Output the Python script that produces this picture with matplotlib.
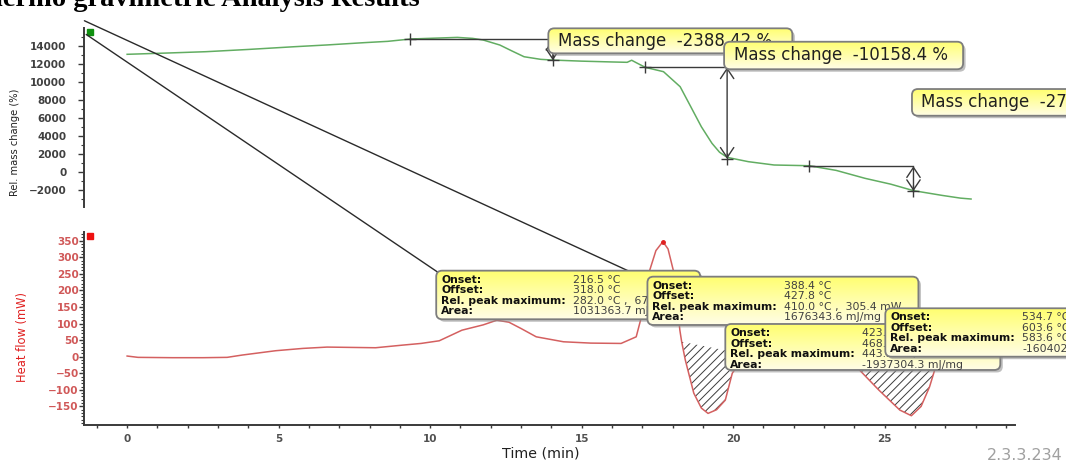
import matplotlib
matplotlib.use('Agg')
import matplotlib.pyplot as plt
import numpy as np
from matplotlib import font_manager
from matplotlib.font_manager import FontProperties
from matplotlib.patches import FancyBboxPatch, ConnectionPatch
from matplotlib.image import BboxImage
from matplotlib.transforms import Bbox, IdentityTransform
from matplotlib.ticker import MultipleLocator
from matplotlib.colors import LinearSegmentedColormap

# TG curve: relative mass change (%)
time_tg = [0.0, 1.3, 2.6, 4.0, 5.5, 6.6, 7.8, 8.6, 9.35, 10.2, 10.9, 11.4, 11.75, 12.3,
           12.7, 13.1, 13.65, 14.05, 15.0, 16.0, 16.5, 16.65, 16.8, 17.1, 17.7, 18.25,
           18.6, 18.95, 19.3, 19.55, 19.8, 20.5, 21.35, 22.5, 23.4, 24.35, 25.2, 25.95,
           26.9, 27.5, 27.85]
mass_tg = [13080, 13220, 13370, 13620, 13920, 14120, 14370, 14520, 14780, 14880, 14960,
           14850, 14670, 14110, 13450, 12810, 12520, 12440, 12320, 12230, 12190, 12420,
           12150, 11630, 11150, 9480, 7260, 5030, 3190, 2200, 1630, 1150, 780, 700, 180,
           -700, -1350, -2070, -2600, -2900, -3000]

# DSC curve: heat flow (mW)
time_hf = [0.0, 0.36, 1.5, 2.5, 3.3, 3.8, 4.9, 5.8, 6.6, 7.4, 8.2, 9.1, 9.7, 10.3, 11.05,
           11.75, 12.2, 12.6, 13.0, 13.5, 14.4, 15.3, 16.3, 16.8, 17.0, 17.25, 17.45,
           17.68, 17.85, 18.02, 18.15, 18.24, 18.3, 18.42, 18.7, 18.95, 19.17, 19.45,
           19.74, 19.97, 20.25, 20.55, 21.2, 22.0, 22.8, 23.4, 23.9, 24.22, 24.8, 25.5,
           25.88, 26.2, 26.48, 26.65, 26.85, 27.1, 27.5, 27.8]
heat_hf = [2, -2, -3, -3, -2, 5, 18, 25, 29, 28, 27, 35, 40, 48, 80, 96, 110, 104, 85,
           60, 45, 41, 40, 60, 130, 262, 320, 347, 325, 262, 160, 80, 45, -10, -110, -155,
           -171, -160, -131, -50, -12, 5, 9, 5, 0, -5, -12, -45, -100, -161, -178, -150,
           -91, -40, -8, 8, 12, 10]

# mass change steps
step_t0 = [9.35, 17.1, 22.5]
step_t1 = [14.05, 19.8, 25.95]
step_hi = [14800, 11630, 650]
step_lo = [12410, 1470, -2120]
step_text = ['-2388.42 %', '-10158.4 %', '-277']

# peak evaluations (last box is cut at the right edge)
onset = ['216.5 °C', '388.4 °C', '423.1 °C', '534.7 °C']
offset = ['318.0 °C', '427.8 °C', '468.9 °C', '603.6 °C']
peak_max = ['282.0 °C ,  67.1 mW', '410.0 °C ,  305.4 mW', '443.5 °C ,  -182.7 mW',
            '583.6 °C']
area = ['1031363.7 mJ/mg', '1676343.6 mJ/mg', '-1937304.3 mJ/mg', '-1604025']

# hatched endothermic peaks (baseline ends)
base_t = [(18.3, 20.55), (23.9, 26.85)]
base_v = [(45, 5), (-12, -8)]

# label boxes: top-left corner in data units, size in pixels
mbox_xy = [(13.9, 15966), (19.7, 14477), (25.9, 9222)]
mbox_wh = [(244, 25), (239, 27.5), (240, 26.7)]
pbox_xy = [(10.2, 259.5), (17.17, 241.4), (19.74, 98.7), (25.02, 146)]
pbox_wh = [(264, 48.6), (271, 48.3), (275, 46), (240, 48.4)]

plt.rcParams['font.family'] = 'DejaVu Sans'


def weight_num(w):
    if isinstance(w, (int, float)):
        return w
    return font_manager.weight_dict.get(w, 400)


# a condensed regular face for the y labels, if one is installed
cands = [f for f in font_manager.fontManager.ttflist
         if (f.stretch not in ('normal', 400, 500) or 'Narrow' in f.name or 'Condensed' in f.name)
         and f.style == 'normal'
         and any(k in f.name for k in ('Sans', 'Roboto', 'Lato', 'Inter'))]
if cands:
    best = min(cands, key=lambda f: abs(weight_num(f.weight) - 400))
    ylab_prop = FontProperties(fname=best.fname)
else:
    ylab_prop = FontProperties(family='Liberation Sans')

W, H = 1077, 462
fig = plt.figure(figsize=(W / 100, H / 100), dpi=100)
ax1 = fig.add_axes([84.4 / W, 1 - 207.3 / H, 930.6 / W, 179 / H])
ax2 = fig.add_axes([84.4 / W, 1 - 425 / H, 930.6 / W, 193.3 / H])
for ax in (ax1, ax2):
    ax.set_xlim(-1.41, 29.3)
    ax.patch.set_alpha(0)
    ax.spines['top'].set_visible(False)
    ax.spines['right'].set_visible(False)
    ax.spines['left'].set_color('#3a3a3a')
    ax.spines['left'].set_linewidth(1.4)
ax1.set_ylim(-3920, 15970)
ax2.set_ylim(-206, 377)

# top: TG
ax1.spines['bottom'].set_visible(False)
ax1.tick_params(axis='x', bottom=False, labelbottom=False)
ax1.yaxis.set_major_locator(MultipleLocator(2000))
ax1.yaxis.set_minor_locator(MultipleLocator(1000))
ax1.tick_params(axis='y', which='major', length=4, width=1, pad=9, colors='#3a3a3a',
                labelsize=7.5, labelcolor='#404040')
ax1.tick_params(axis='y', which='minor', length=2.5, width=0.8, colors='#3a3a3a')
for lb in ax1.get_yticklabels():
    lb.set_fontweight('bold')
ax1.plot(time_tg, mass_tg, color='#62ad62', lw=1.1)
ax1.plot([0.006], [0.978], 's', color='#109010', ms=5, transform=ax1.transAxes, clip_on=False)

for t0, t1, hi, lo in zip(step_t0, step_t1, step_hi, step_lo):
    ax1.plot([t0, t1], [hi, hi], color='#3a3a3a', lw=1)
    ax1.annotate('', xy=(t1, lo), xytext=(t1, hi),
                 arrowprops=dict(arrowstyle='<->,head_length=0.6,head_width=0.4',
                                 color='#3a3a3a', lw=1, shrinkA=0, shrinkB=0,
                                 mutation_scale=12))
    ax1.plot([t0, t1], [hi, lo], ls='none', marker='+', color='#3a3a3a', ms=8, mew=1)

# bottom: DSC
ax2.spines['bottom'].set_color('#3a3a3a')
ax2.spines['bottom'].set_linewidth(1.4)
ax2.set_yticks(np.arange(-150, 351, 50))
ax2.yaxis.set_minor_locator(MultipleLocator(10))
ax2.xaxis.set_major_locator(MultipleLocator(5))
ax2.xaxis.set_minor_locator(MultipleLocator(1))
ax2.tick_params(axis='y', which='major', length=3.5, width=1, pad=0.5, colors='#3a3a3a',
                labelsize=7.5, labelcolor='#d05858')
ax2.tick_params(axis='y', which='minor', length=2, width=0.8, colors='#3a3a3a')
ax2.tick_params(axis='x', which='both', length=2.5, width=1, pad=4, colors='#3a3a3a',
                labelsize=7.5, labelcolor='#505050')
for lb in ax2.get_yticklabels() + ax2.get_xticklabels():
    lb.set_fontweight('bold')

plt.rcParams['hatch.linewidth'] = 0.7
t_arr = np.array(time_hf)
h_arr = np.array(heat_hf)
for (ta, tb), (va, vb) in zip(base_t, base_v):
    m = (t_arr >= ta) & (t_arr <= tb)
    base = np.interp(t_arr[m], [ta, tb], [va, vb])
    ax2.fill_between(t_arr[m], h_arr[m], base, facecolor='none', edgecolor='#3c3c3c',
                     hatch='////', linewidth=0)
ax2.plot(time_hf, heat_hf, color='#d46060', lw=1.1)
ipk = int(np.argmax(h_arr))
ax2.plot([time_hf[ipk]], [heat_hf[ipk]], 'o', color='#e02020', ms=2.5)
ax2.plot([0.006], [0.979], 's', color='#ee1010', ms=5, transform=ax2.transAxes, clip_on=False)

yl1 = ax1.set_ylabel('Rel. mass change (%)', fontproperties=ylab_prop, color='#202020')
ax1.yaxis.set_label_coords(-0.069, 0.365)
yl2 = ax2.set_ylabel('Heat flow (mW)', fontproperties=ylab_prop, color='#e02020')
ax2.yaxis.set_label_coords(-0.06, 0.455)
ax2.set_xlabel('Time (min)', fontsize=10.3, color='#202020')
ax2.xaxis.set_label_coords(0.49, -0.145)
ax2.xaxis.label.set_va('center')

# size the condensed labels to the span they have in the picture
renderer = fig.canvas.get_renderer()
for lab, span in ((yl1, 108), (yl2, 90)):
    lab.set_fontsize(10)
    ext = lab.get_window_extent(renderer)
    lab.set_fontsize(min(12, 10 * span / ext.height))

# leader lines
for (ta, va), (tb, vb) in [((-1.41, 16810), (16.64, 254.6)), ((-1.35, 15287), (10.25, 255))]:
    con = ConnectionPatch(xyA=(ta, va), coordsA=ax1.transData, xyB=(tb, vb),
                          coordsB=ax2.transData, color='#2a2a2a', lw=1, zorder=2)
    con.set_clip_on(False)
    fig.add_artist(con)

box_cmap = LinearSegmentedColormap.from_list('boxfill', ['#ffff70', '#fffde6'])
clip_right = Bbox([[0, 0], [1066, H]])
ident = IdentityTransform()


def draw_box(ax, xy, wh, z, clip=None):
    x0, ytop = ax.transData.transform(xy)
    w, h = wh
    y0 = ytop - h
    style = 'round,pad=0,rounding_size=6'
    shadow = FancyBboxPatch((x0 + 2.5, y0 - 2.5), w, h, boxstyle=style, transform=ident,
                            fc='#8c8c8c', ec='none', alpha=0.55, zorder=z)
    frame = FancyBboxPatch((x0, y0), w, h, boxstyle=style, transform=ident,
                           fc='none', ec='#7d7d7d', lw=1.3, zorder=z + 0.2)
    shape = FancyBboxPatch((x0, y0), w, h, boxstyle=style, transform=ident)
    grad = BboxImage(Bbox.from_bounds(x0, y0, w, h), cmap=box_cmap,
                     interpolation='bilinear', zorder=z + 0.1)
    grad.set_data(np.linspace(0, 1, 50).reshape(-1, 1))
    grad.set_clip_path(shape)
    for a in (shadow, grad, frame):
        fig.add_artist(a)
        if clip is not None:
            a.set_clip_box(clip)
    return x0, ytop


def box_text(x, y, s, z, clip=None, **kw):
    t = fig.text(x, y, s, transform=ident, zorder=z, **kw)
    if clip is not None:
        t.set_clip_box(clip)
        t.set_clip_on(True)


for i, (xy, wh, val) in enumerate(zip(mbox_xy, mbox_wh, step_text)):
    clip = clip_right if i == 2 else None
    x0, ytop = draw_box(ax1, xy, wh, 3 + i, clip)
    box_text(x0 + 9.5, ytop - wh[1] / 2, 'Mass change  ' + val, 3 + i + 0.3, clip,
             va='center', ha='left', fontsize=12, color='#202020')

labels = ['Onset:', 'Offset:', 'Rel. peak maximum:', 'Area:']
for i, (xy, wh) in enumerate(zip(pbox_xy, pbox_wh)):
    clip = clip_right if i == 3 else None
    x0, ytop = draw_box(ax2, xy, wh, 6 + i, clip)
    vals = [onset[i], offset[i], peak_max[i], area[i]]
    for r in range(4):
        yy = ytop - 9 - 10.6 * r
        box_text(x0 + 5, yy, labels[r], 6 + i + 0.3, clip, va='center', ha='left',
                 fontsize=7.8, fontweight='bold', color='#101010')
        box_text(x0 + 137, yy, vals[r], 6 + i + 0.3, clip, va='center', ha='left',
                 fontsize=7.8, color='#404040')

fig.text(420 / W, 1 - 6.5 / H, 'Thermo gravimetric Analysis Results', ha='right',
         va='baseline', fontsize=20.5, fontweight='bold', family='Liberation Serif')
fig.text(1063 / W, 1 - 456 / H, '2.3.3.234', ha='right', va='center', fontsize=11.5,
         color='#a0a0a0')

fig.savefig('out.png', dpi=100)
